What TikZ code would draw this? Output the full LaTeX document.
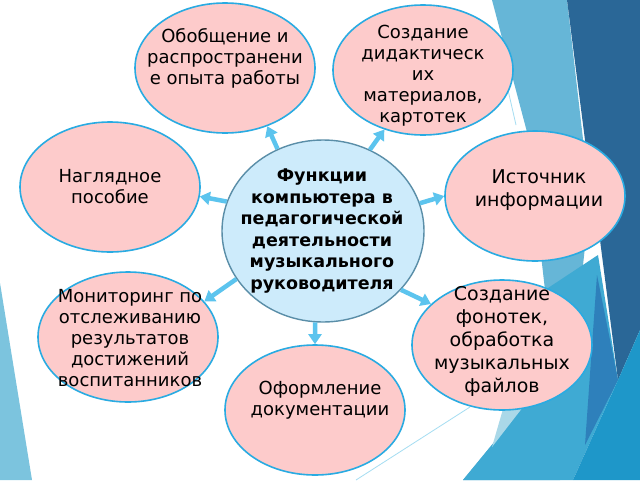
\documentclass[tikz,border=0pt]{standalone}
\usepackage{fontspec}
\setmainfont{DejaVu Sans}
\usetikzlibrary{shapes.geometric,arrows.meta}
\definecolor{pinkf}{HTML}{FDCBCB}
\definecolor{ellblue}{HTML}{29ABE2}
\definecolor{ctrfill}{HTML}{CDEBFB}
\definecolor{ctrborder}{HTML}{5A8EA8}
\definecolor{arrblue}{HTML}{5CC4EE}
\definecolor{bglight}{HTML}{66B6D7}
\definecolor{bgmed}{HTML}{3FAAD3}
\definecolor{bgdark}{HTML}{2A6797}
\definecolor{bgmiddark}{HTML}{2E80BB}
\definecolor{bgbright}{HTML}{1E97C9}
\definecolor{bgleft}{HTML}{7CC4DE}
\definecolor{bgpale}{HTML}{AAD8E8}
\definecolor{bgline}{HTML}{A5DDF2}
\begin{document}
\begin{tikzpicture}[x=1pt,y=-1pt,
  ell/.style={ellipse, draw=ellblue, line width=1.6pt, fill=pinkf,
    minimum width=180pt, minimum height=130pt, inner sep=0pt},
  ctr/.style={ellipse, draw=ctrborder, line width=1.4pt, fill=ctrfill,
    minimum width=202pt, minimum height=182pt, inner sep=0pt},
  txt/.style={align=center, font=\fontsize{18}{21}\selectfont, inner sep=0pt},
  bigtxt/.style={align=center, font=\fontsize{19}{23}\selectfont, inner sep=0pt},
  ctrtxt/.style={align=center, font=\fontsize{17.5}{21.5}\selectfont\bfseries, inner sep=0pt},
  arr/.style={draw=arrblue, line width=4.5pt, -{Triangle[length=10pt,width=13pt]}}
]
\useasboundingbox (0,0) rectangle (640,480);
\fill[white] (0,0) rectangle (640,480);
% background facets
\fill[bglight] (492,0) -- (567,0) -- (590,200) -- (560,480) -- (463,480) -- (523,407) -- (545,290) -- (527,132) -- cycle;
\fill[bgmed] (545,290) -- (598,255) -- (618,380) -- (573,480) -- (463,480) -- (523,407) -- cycle;
\fill[bgpale] (503,409) -- (523,407) -- (492,447) -- cycle;
\fill[bgdark] (567,0) -- (640,0) -- (640,330) -- (618,380) -- (600,240) -- (585,140) -- cycle;
\fill[bgmiddark] (597,275) -- (618,380) -- (585,445) -- cycle;
\fill[bgbright] (640,330) -- (640,480) -- (573,480) -- (618,380) -- cycle;
\fill[bgleft] (0,283) -- (32,480) -- (0,480) -- cycle;
\draw[bgline, line width=0.8pt] (470,407) -- (356,480);
\draw[bgline, line width=0.8pt] (508,90) -- (516,125);
% nodes
\node[ctr] (c) at (323,231) {};
\node[ell] (e1) at (225,68) {};
\node[ell] (e2) at (423,70) {};
\node[ell] (e3) at (110,187) {};
\node[ell] (e4) at (535,196) {};
\node[ell] (e5) at (128,337) {};
\node[ell] (e6) at (502,345) {};
\node[ell] (e7) at (315,410) {};
% texts
\node[ctrtxt] (tc) at (322,231) {Функции\\компьютера в\\педагогической\\деятельности\\музыкального\\руководителя};
\node[txt] (t1) at (225,58) {Обобщение и\\распространени\\е опыта работы};
\node[txt] (t2) at (423,76) {Создание\\дидактическ\\их\\материалов,\\картотек};
\node[txt] (t3) at (110,187) {Наглядное\\пособие};
\node[bigtxt] (t4) at (539,190) {Источник\\информации};
\node[txt] (t5) at (130,338) {Мониторинг по\\отслеживанию\\результатов\\достижений\\воспитанников};
\node[bigtxt] (t6) at (502,341) {Создание\\фонотек,\\обработка\\музыкальных\\файлов};
\node[txt] (t7) at (320,400) {Оформление\\документации};
% arrows
\draw[arr] (c.119) -- (e1.306);
\draw[arr] (c.60) -- (e2.237);
\draw[arr] (c.163) -- (e3.354);
\draw[arr] (c.16) -- (e4.180);
\draw[arr] (c.209) -- (e5.25);
\draw[arr] (c.323) -- (e6.150);
\draw[arr] (c.265) -- (e7.90);
\end{tikzpicture}
\end{document}
